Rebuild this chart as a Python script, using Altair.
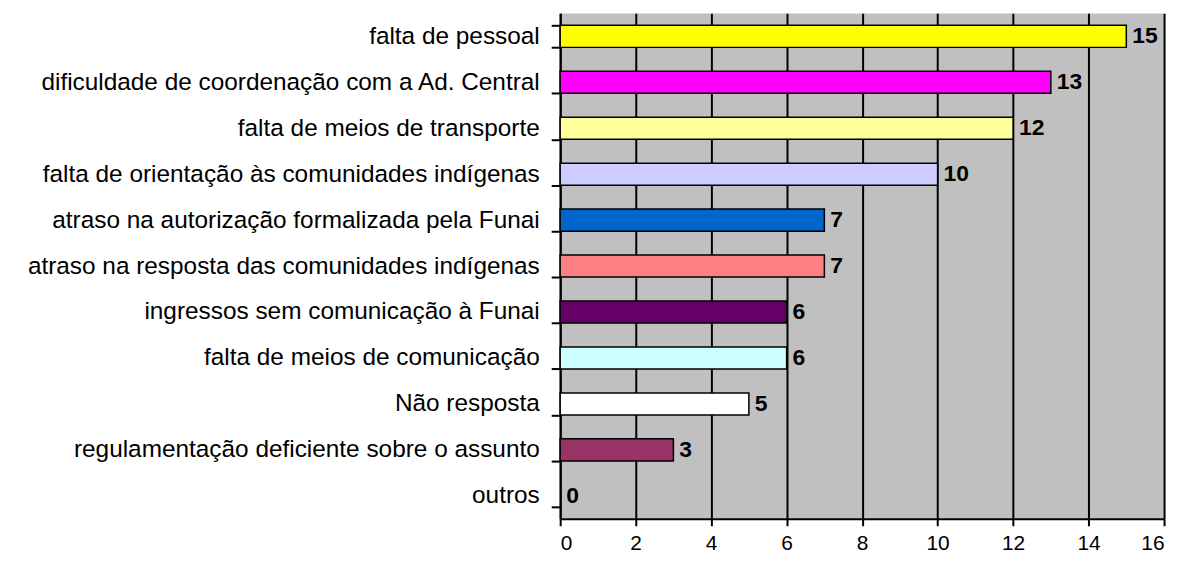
import altair as alt
import pandas as pd

categories = [
    "falta de pessoal",
    "dificuldade de coordenação com a Ad. Central",
    "falta de meios de transporte",
    "falta de orientação às comunidades indígenas",
    "atraso na autorização formalizada pela Funai",
    "atraso na resposta das comunidades indígenas",
    "ingressos sem comunicação à Funai",
    "falta de meios de comunicação",
    "Não resposta",
    "regulamentação deficiente sobre o assunto",
    "outros",
]
values = [15, 13, 12, 10, 7, 7, 6, 6, 5, 3, 0]
colors = [
    "#FFFF00", "#FF00FF", "#FFFF99", "#CCCCFF", "#0066CC",
    "#FF8080", "#660066", "#CCFFFF", "#FFFFFF", "#993366", "#C0C0C0",
]
x_ticks = [0, 2, 4, 6, 8, 10, 12, 14, 16]

df = pd.DataFrame({"cat": categories, "value": values, "color": colors})

FONT = "Liberation Sans"

y_enc = alt.Y(
    "cat:N",
    sort=categories,
    scale=alt.Scale(paddingInner=0.52, paddingOuter=0.26),
    axis=alt.Axis(
        title=None,
        labelFont=FONT,
        labelFontSize=24.5,
        labelColor="#000000",
        labelPadding=12,
        tickSize=9,
        tickWidth=2,
        tickColor="#000000",
        tickBand="extent",
        domainColor="#000000",
        domainWidth=2,
        grid=False,
        labelLimit=700,
    ),
)

x_enc = alt.X(
    "value:Q",
    scale=alt.Scale(domain=[0, 16], nice=False),
    axis=alt.Axis(
        title=None,
        values=x_ticks,
        labelFont=FONT,
        labelFontSize=21,
        labelColor="#000000",
        labelPadding=7,
        tickSize=7,
        tickWidth=2,
        tickColor="#000000",
        domainColor="#000000",
        domainWidth=2,
        grid=True,
        gridColor="#000000",
        gridWidth=2,
        gridOpacity=1,
    ),
)

bars = (
    alt.Chart(df)
    .transform_filter(alt.datum.value > 0)
    .mark_bar(stroke="#000000", strokeWidth=1.5)
    .encode(
        y=y_enc,
        x=x_enc,
        color=alt.Color("color:N", scale=None, legend=None),
    )
)

labels = (
    alt.Chart(df)
    .mark_text(
        align="left",
        baseline="middle",
        dx=6,
        font=FONT,
        fontSize=23,
        fontWeight="bold",
        color="#000000",
    )
    .encode(
        y=alt.Y("cat:N", sort=categories),
        x=alt.X("value:Q"),
        text=alt.Text("value:Q"),
    )
)

chart = (
    alt.layer(bars, labels)
    .properties(
        width=607,
        height=508,
        autosize=alt.AutoSizeParams(type="none"),
        padding={"left": 555, "top": 4, "right": 12, "bottom": 35},
        background="#FFFFFF",
    )
    .configure_view(fill="#C0C0C0", stroke=None)
)

chart.save("out.html", embed_options={"renderer": "svg", "actions": False})
